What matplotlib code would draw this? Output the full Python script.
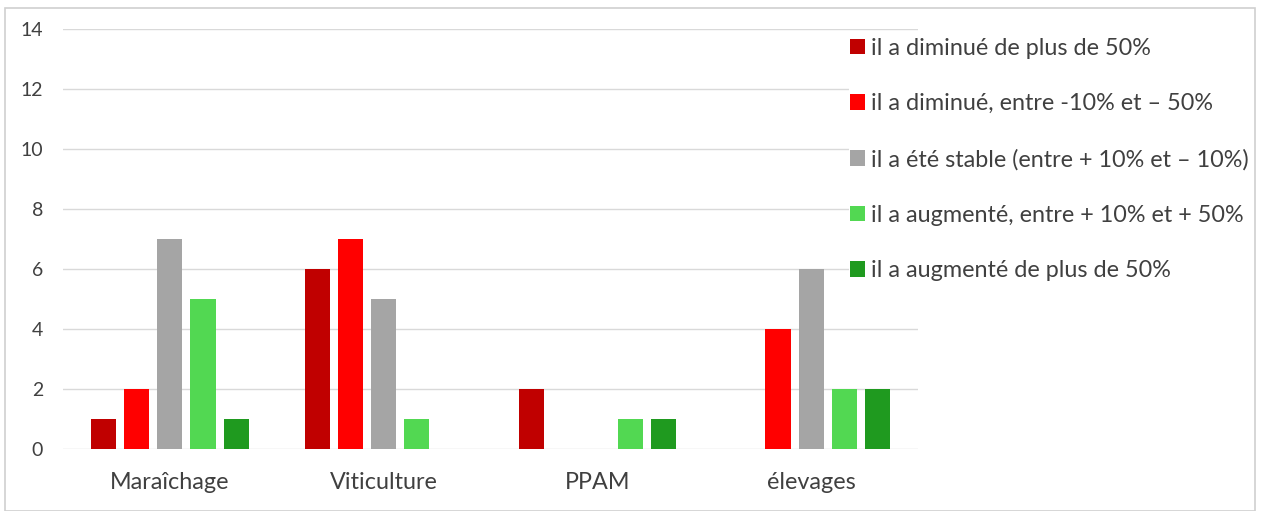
import matplotlib
matplotlib.use("Agg")
import matplotlib.pyplot as plt
from matplotlib.patches import Rectangle
import numpy as np

categories = ["Maraîchage", "Viticulture", "PPAM", "élevages"]
series_labels = [
    "il a diminué de plus de 50%",
    "il a diminué, entre -10% et – 50%",
    "il a été stable (entre + 10% et – 10%)",
    "il a augmenté, entre + 10% et + 50%",
    "il a augmenté de plus de 50%",
]
dim_plus50 = [1, 6, 2, 0]
dim_10_50 = [2, 7, 0, 4]
stable = [7, 5, 0, 6]
aug_10_50 = [5, 1, 1, 2]
aug_plus50 = [1, 0, 1, 2]
series_values = [dim_plus50, dim_10_50, stable, aug_10_50, aug_plus50]
colors = ["#C00000", "#FF0000", "#A5A5A5", "#52D852", "#1F9A1F"]
yticks = [0, 2, 4, 6, 8, 10, 12, 14]

plt.rcParams['font.family'] = ['Lato', 'DejaVu Sans']

W, H = 1262, 511
fig = plt.figure(figsize=(W / 100, H / 100), dpi=100)
fig.patch.set_facecolor("white")

# chart frame
fig.add_artist(Rectangle((5 / W, 0.5 / H), 1250 / W, (H - 8.5) / H, transform=fig.transFigure,
                         fill=False, edgecolor="#D0D0D0", linewidth=1.2))

ax = fig.add_axes([63 / W, (H - 449) / H, (918 - 63) / W, (449 - 29) / H])
x = np.arange(len(categories))
step = 0.155
width = 0.118
for i, (vals, col, lab) in enumerate(zip(series_values, colors, series_labels)):
    ax.bar(x + (i - 2) * step, vals, width=width, color=col, label=lab, zorder=3)

ax.set_xlim(-0.5, len(categories) - 0.5)
ax.set_ylim(0, 14)
ax.set_yticks(yticks)
ax.set_xticks(x)
ax.set_xticklabels(categories)
ax.grid(axis="y", color="#D9D9D9", linewidth=1.0, zorder=0)
for s in ax.spines.values():
    s.set_visible(False)
ax.tick_params(axis="both", length=0, colors="#595959")
ax.tick_params(axis="y", pad=14.4, labelsize=14)
ax.tick_params(axis="x", pad=16.5, labelsize=16.8)
for t in ax.get_xticklabels() + ax.get_yticklabels():
    t.set_color("#404040")

leg = fig.legend(loc="upper left", bbox_to_anchor=(849 / W, 1 - 36.5 / H),
                 frameon=True, facecolor="white", edgecolor="none", framealpha=1,
                 fontsize=16.8, labelspacing=1.48, handlelength=0.64, handleheight=0.64,
                 handletextpad=0.25, borderpad=0.05, borderaxespad=0)
for t in leg.get_texts():
    t.set_color("#404040")
leg.set_zorder(5)

fig.savefig("out.png", dpi=100)
